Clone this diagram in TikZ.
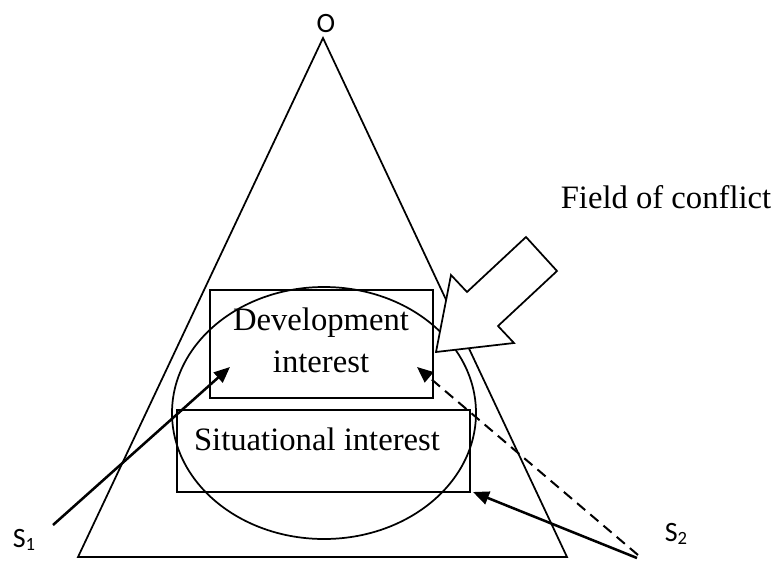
\documentclass[tikz,border=0pt]{standalone}
\usepackage{fontspec}
\setmainfont{Liberation Serif}
\newfontfamily\calfont{Carlito}
\usetikzlibrary{arrows.meta}
\begin{document}
\begin{tikzpicture}[x=0.75pt,y=-0.75pt,
  thinline/.style={line width=1.3pt},
  boxline/.style={draw,line width=1.6pt,inner sep=0pt},
  lbl/.style={font=\fontsize{24.5}{29}\selectfont,inner sep=0pt,anchor=base},
  sans/.style={font=\calfont\fontsize{21}{25}\selectfont,inner sep=0pt},
  conn/.style={line width=1.9pt,-{Triangle[length=12pt,width=10pt]}},
  dconn/.style={line width=1.5pt,dash pattern=on 8pt off 5pt,-{Triangle[length=12pt,width=10pt]}}]
\useasboundingbox (0,0) rectangle (779,561);
% triangle
\coordinate (apex) at (323,38);
\coordinate (bl) at (78,557);
\coordinate (br) at (567,557);
\draw[thinline] (apex) -- (bl) -- (br) -- cycle;
\node[sans] (O) at (326,24) {O};
% ellipse
\draw[thinline] (324,413) ellipse [x radius=152, y radius=126];
% boxes
\node[boxline,minimum width=223*0.75pt,minimum height=108*0.75pt] (dev) at (321.5,344) {};
\node[boxline,minimum width=293*0.75pt,minimum height=82*0.75pt] (sit) at (323.5,451) {};
\node[lbl] (devt1) at (321,330) {Development};
\node[lbl] (devt2) at (321,372) {interest};
\node[lbl] (sitt) at (317,450) {Situational interest};
% big arrow
\draw[thinline,fill=white] (436,352) -- (451,275) -- (467,292) -- (526,237) -- (557,271) -- (498,326) -- (514,343) -- cycle;
\node[lbl] (field) at (666,208) {Field of conflict};
% S labels
\node[sans] (s1) at (24,540) {S\raisebox{-0.12em}{\fontsize{14}{16}\selectfont 1}};
\node[sans] (s2) at (676,534) {S\raisebox{-0.12em}{\fontsize{14}{16}\selectfont 2}};
\coordinate (s1a) at (53,525);
\coordinate (s2a) at (637,558);
\coordinate (s2b) at (638,555);
\coordinate (t1) at (230,367);
\coordinate (t2) at (473,492);
\coordinate (t3) at (417,367);
\draw[conn] (s1a) -- (t1);
\draw[conn] (s2a) -- (t2);
\draw[dconn] (s2b) -- (t3);
\end{tikzpicture}
\end{document}
